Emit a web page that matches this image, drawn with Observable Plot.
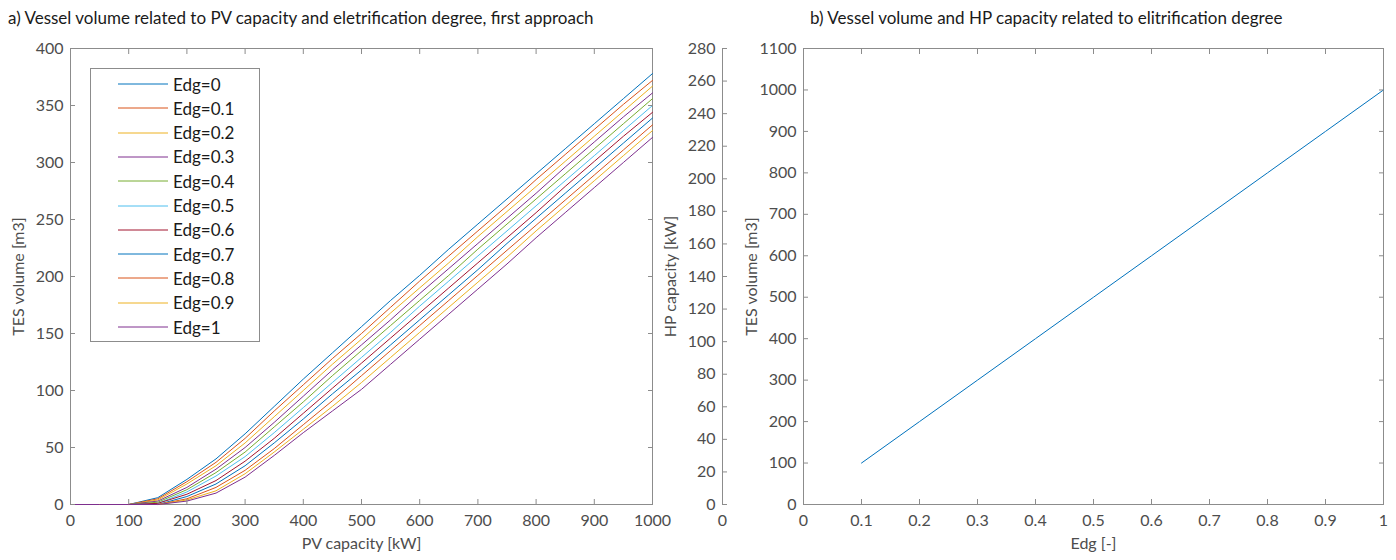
<!DOCTYPE html>
<html><head><meta charset="utf-8">
<script src="https://cdn.jsdelivr.net/npm/d3@7"></script>
<script src="https://cdn.jsdelivr.net/npm/@observablehq/plot@0.6"></script>
<style>
body{margin:0;background:#fff;}
#wrap{position:relative;width:1396px;height:560px;overflow:hidden;font-family:Lato,sans-serif;background:#fff;}
.panel{position:absolute;top:0;}
.title{position:absolute;font-size:17px;color:#1a1a1a;white-space:nowrap;font-family:Lato,sans-serif;}
.legend{position:absolute;background:#fff;border:1px solid #8c8c8c;font-family:Lato,sans-serif;font-size:17px;color:#1a1a1a;}
.legend .row{position:absolute;left:0;height:20px;display:flex;align-items:center;}
</style></head><body>
<div id="wrap"></div>
<script>
// ---------- data: panel a ----------
const pvCapacity = [0,50,100,150,200,250,300,350,400,450,500,550,600,650,700,750,800,850,900,950,1000];
const edgNames = ["Edg=0","Edg=0.1","Edg=0.2","Edg=0.3","Edg=0.4","Edg=0.5","Edg=0.6","Edg=0.7","Edg=0.8","Edg=0.9","Edg=1"];
const volEdg00 = [0,0,0,6,22,40,62,86,110,133,156,179,201,224,246,268,290,312,334,356,378];
const volEdg01 = [0,0,0,5,20,37,58,82,105,128,150,173,196,218,240,262,285,307,329,351,372];
const volEdg02 = [0,0,0,4,18,34,54,77,100,123,145,168,190,212,235,257,279,301,323,345,367];
const volEdg03 = [0,0,0,3,15,31,50,72,95,118,140,162,185,207,229,251,273,296,318,340,361];
const volEdg04 = [0,0,0,2,13,28,46,68,90,113,135,157,179,201,224,246,268,290,312,334,356];
const volEdg05 = [0,0,0,1,11,25,42,63,85,107,129,151,174,196,218,240,262,284,306,328,350];
const volEdg06 = [0,0,0,1,9,21,38,58,80,102,124,146,168,190,212,234,256,279,301,323,344];
const volEdg07 = [0,0,0,0,7,18,34,54,75,97,118,140,162,184,206,229,251,273,295,317,339];
const volEdg08 = [0,0,0,0,5,15,30,49,70,91,113,135,157,179,201,223,245,267,289,311,333];
const volEdg09 = [0,0,0,0,4,12,27,46,66,86,107,129,151,173,195,217,240,262,284,306,328];
const volEdg10 = [0,0,0,0,3,10,24,43,63,82,101,123,145,167,189,211,234,256,278,300,322];
const seriesColors = ["#0072BD","#D95319","#EDB120","#7E2F8E","#77AC30","#4DBEEE","#A2142F","#0072BD","#D95319","#EDB120","#7E2F8E"];
const xTicksA = [0,100,200,300,400,500,600,700,800,900,1000];
const yTicksA = [0,50,100,150,200,250,300,350,400];

// ---------- data: panel b ----------
const edgDegree = [0.1,0.2,0.3,0.4,0.5,0.6,0.7,0.8,0.9,1];
const tesVolumeB = [100,200,300,400,500,600,700,800,900,1000];
const xTicksB = [0,0.1,0.2,0.3,0.4,0.5,0.6,0.7,0.8,0.9,1];
const yTicksB = [0,100,200,300,400,500,600,700,800,900,1000,1100];
const yTicksHP = [0,20,40,60,80,100,120,140,160,180,200,220,240,260,280];

const titleA = "a) Vessel volume related to PV capacity and eletrification degree, first approach";
const titleB = "b) Vessel volume and HP capacity related to elitrification degree";

const AX = "#8c8c8c", TX = "#4d4d4d";
const baseStyle = {fontFamily:"Lato, sans-serif", fontSize:"16px", color:TX, background:"transparent", overflow:"visible"};
const allSeries = [volEdg00,volEdg01,volEdg02,volEdg03,volEdg04,volEdg05,volEdg06,volEdg07,volEdg08,volEdg09,volEdg10];
const rowsA = [];
allSeries.forEach((arr,i)=>arr.forEach((v,j)=>rowsA.push({pv:pvCapacity[j], vol:v, series:edgNames[i]})));
const rowsB = edgDegree.map((e,i)=>({edg:e, tes:tesVolumeB[i]}));
const fmt1 = d => String(+d.toFixed(1));
const fmtInt = d => String(d);

const wrap = document.getElementById("wrap");
function place(el, left, top){const d=document.createElement("div");d.className="panel";d.style.left=left+"px";d.style.top=(top||0)+"px";d.appendChild(el);wrap.appendChild(d);return d;}

// panel a
const plotA = Plot.plot({
  width:700, height:560, marginLeft:70, marginRight:48, marginTop:48, marginBottom:56,
  style:baseStyle,
  x:{domain:[0,1000]}, y:{domain:[0,400]},
  color:{domain:edgNames, range:seriesColors},
  marks:[
    Plot.frame({stroke:AX}),
    Plot.line(rowsA,{x:"pv", y:"vol", z:"series", stroke:"series", strokeWidth:1}),
    Plot.axisX(xTicksA,{tickSize:-5, tickPadding:15, tickFormat:fmtInt, stroke:AX, fill:TX, label:"PV capacity [kW]", labelAnchor:"center", labelOffset:44, labelArrow:"none"}),
    Plot.axisX(xTicksA,{anchor:"top", tickSize:-5, tickFormat:()=>"", stroke:AX, label:null}),
    Plot.axisY(yTicksA,{tickSize:-5, tickPadding:12, tickFormat:fmtInt, stroke:AX, fill:TX, label:"TES volume [m3]", labelAnchor:"center", labelOffset:58, labelArrow:"none"}),
    Plot.axisY(yTicksA,{anchor:"right", tickSize:-5, tickFormat:()=>"", stroke:AX, label:null})
  ]
});
place(plotA, 0);

// HP capacity axis
const plotHP = Plot.plot({
  width:90, height:560, marginLeft:82, marginRight:7, marginTop:48, marginBottom:56,
  style:baseStyle,
  x:{domain:[0,1]}, y:{domain:[0,280]},
  marks:[
    Plot.ruleX([0],{stroke:AX}),
    Plot.axisX([0],{tickSize:0, tickPadding:10, tickFormat:fmtInt, fill:TX, label:null}),
    Plot.axisY(yTicksHP,{tickSize:-5, tickPadding:12, tickFormat:fmtInt, stroke:AX, fill:TX, label:"HP capacity [kW]", labelAnchor:"center", labelOffset:58, labelArrow:"none"})
  ]
});
place(plotHP, 640);

// panel b
const plotB = Plot.plot({
  width:696, height:560, marginLeft:103, marginRight:13, marginTop:48, marginBottom:56,
  style:baseStyle,
  x:{domain:[0,1]}, y:{domain:[0,1100]},
  marks:[
    Plot.frame({stroke:AX}),
    Plot.line(rowsB,{x:"edg", y:"tes", stroke:"#0072BD", strokeWidth:1}),
    Plot.axisX(xTicksB,{tickSize:-5, tickPadding:15, tickFormat:fmt1, stroke:AX, fill:TX, label:"Edg [-]", labelAnchor:"center", labelOffset:44, labelArrow:"none"}),
    Plot.axisX(xTicksB,{anchor:"top", tickSize:-5, tickFormat:()=>"", stroke:AX, label:null}),
    Plot.axisY(yTicksB,{tickSize:-5, tickPadding:12, tickFormat:fmtInt, stroke:AX, fill:TX, label:"TES volume [m3]", labelAnchor:"center", labelOffset:58, labelArrow:"none"}),
    Plot.axisY(yTicksB,{anchor:"right", tickSize:-5, tickFormat:()=>"", stroke:AX, label:null})
  ]
});
place(plotB, 700);

// titles
const tA = document.createElement("div"); tA.className="title"; tA.textContent=titleA; tA.style.left="8px"; tA.style.top="7px"; wrap.appendChild(tA);
const tB = document.createElement("div"); tB.className="title"; tB.textContent=titleB; tB.style.left="810px"; tB.style.top="7px"; wrap.appendChild(tB);

// legend
const lg = document.createElement("div"); lg.className="legend";
lg.style.left="90px"; lg.style.top="68px"; lg.style.width="168px"; lg.style.height="272px";
edgNames.forEach((n,i)=>{
  const r=document.createElement("div"); r.className="row"; r.style.top=(5+i*24.3)+"px";
  r.innerHTML=`<svg width="80" height="20" style="display:block"><line x1="27" x2="77" y1="10" y2="10" stroke="${seriesColors[i]}" stroke-width="1"/></svg><span style="margin-left:2px">${n}</span>`;
  lg.appendChild(r);
});
wrap.appendChild(lg);
</script>
</body></html>
